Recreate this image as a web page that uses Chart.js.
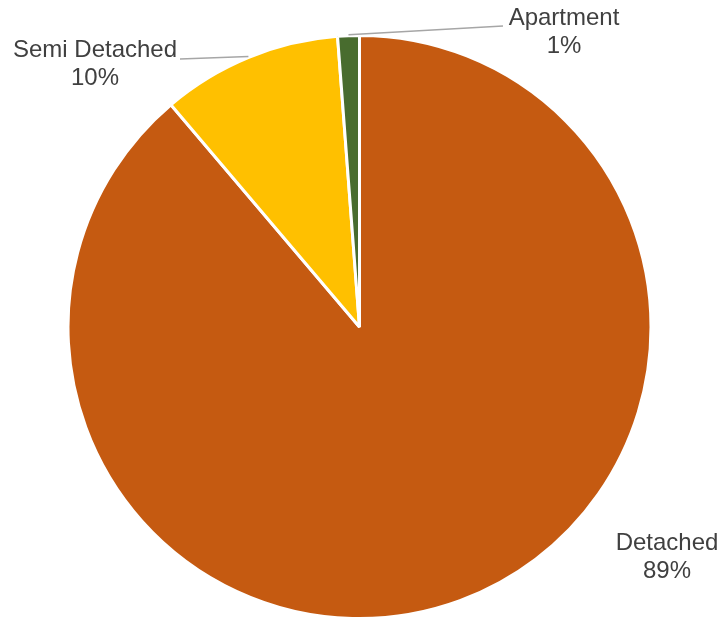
<!DOCTYPE html>
<html>
<head>
<meta charset="utf-8">
<script src="https://cdn.jsdelivr.net/npm/chart.js@4/dist/chart.umd.min.js"></script>
<style>
  html, body { margin: 0; padding: 0; background: #ffffff; }
  #wrap { position: relative; width: 721px; height: 620px; }
</style>
</head>
<body>
<div id="wrap"><canvas id="c" width="721" height="620"></canvas></div>
<script>
// Dwelling types and their share of the total (%)
const categories = ['Detached', 'Semi Detached', 'Apartment'];
const shares = [88.8, 10.0, 1.2];
const shareLabels = ['89%', '10%', '1%'];
const sliceColors = ['#C55A11', '#FFC000', '#486C2E'];

// Where each data label sits (text centre, px) and whether it gets a leader line
const labelPlacement = [
  { x: 667, y: 543, leader: false },
  { x: 95,  y: 50,  leader: true, lineEnd: { x: 180, y: 59 } },
  { x: 564, y: 18,  leader: true, lineEnd: { x: 503, y: 26 } }
];

const dataLabels = {
  id: 'dataLabels',
  afterDatasetsDraw(chart) {
    const ctx = chart.ctx;
    const arcs = chart.getDatasetMeta(0).data;
    ctx.save();
    arcs.forEach((arc, i) => {
      const p = labelPlacement[i];
      if (p.leader) {
        const mid = (arc.startAngle + arc.endAngle) / 2;
        const sx = arc.x + Math.cos(mid) * (arc.outerRadius + 1);
        const sy = arc.y + Math.sin(mid) * (arc.outerRadius + 1);
        ctx.strokeStyle = '#A6A6A6';
        ctx.lineWidth = 1.5;
        ctx.beginPath();
        ctx.moveTo(sx, sy);
        ctx.lineTo(p.lineEnd.x, p.lineEnd.y);
        ctx.stroke();
      }
      ctx.fillStyle = '#404040';
      ctx.font = '24px "Liberation Sans", Arial, sans-serif';
      ctx.textAlign = 'center';
      ctx.textBaseline = 'middle';
      ctx.fillText(categories[i], p.x, p.y);
      ctx.fillText(shareLabels[i], p.x, p.y + 28);
    });
    ctx.restore();
  }
};

new Chart(document.getElementById('c'), {
  type: 'pie',
  data: {
    labels: categories,
    datasets: [{
      data: shares,
      backgroundColor: sliceColors,
      borderColor: '#ffffff',
      borderWidth: 3
    }]
  },
  options: {
    responsive: false,
    animation: false,
    layout: { padding: { top: 34, bottom: 0, left: 66, right: 68 } },
    plugins: {
      legend: { display: false },
      tooltip: { enabled: false }
    }
  },
  plugins: [dataLabels]
});
</script>
</body>
</html>
